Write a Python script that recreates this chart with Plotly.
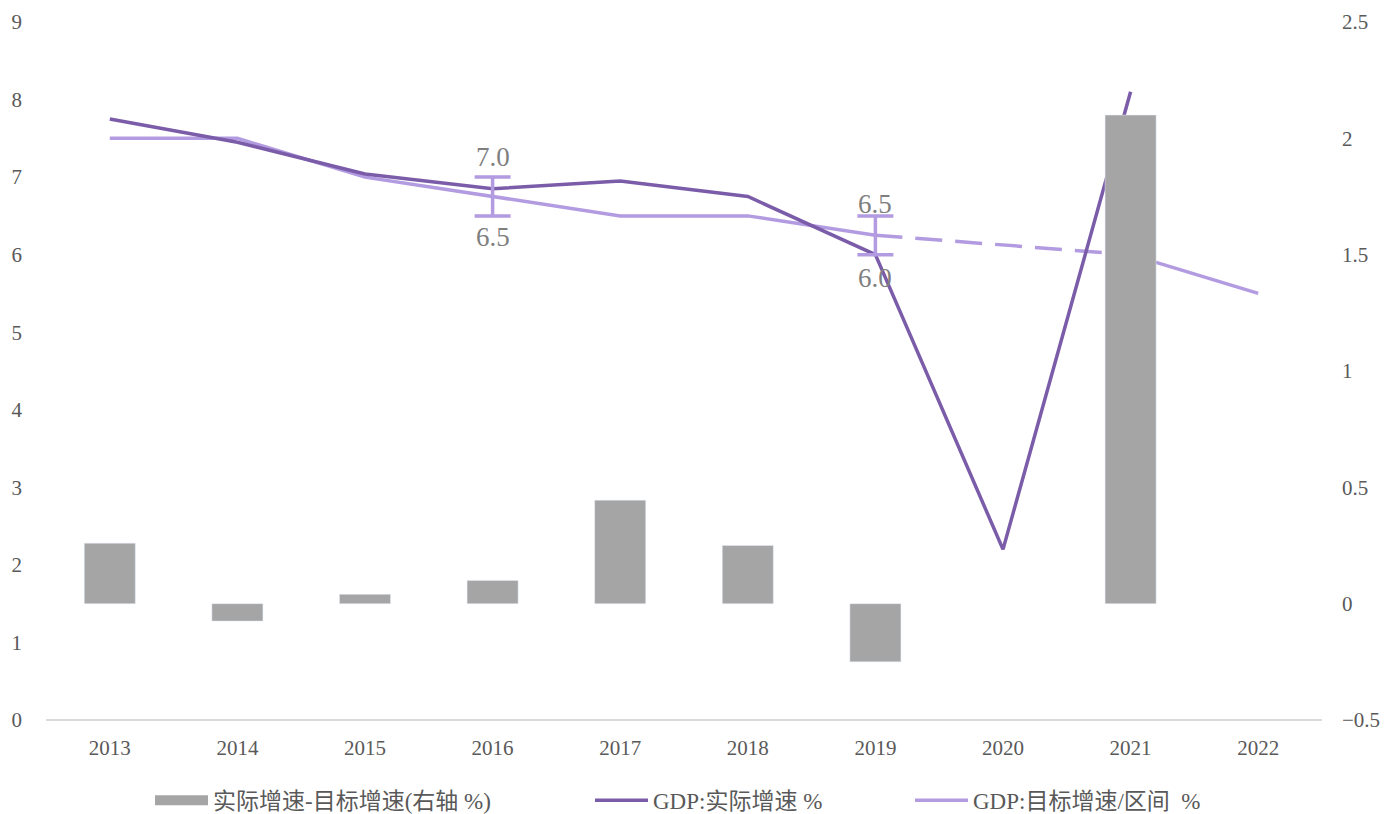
import plotly.graph_objects as go

years = [2013, 2014, 2015, 2016, 2017, 2018, 2019, 2020, 2021, 2022]
actual = [7.75, 7.45, 7.04, 6.85, 6.95, 6.75, 6.0, 2.2, 8.1, None]
target_solid_a_years = [2013, 2014, 2015, 2016, 2017, 2018, 2019]
target_solid_a = [7.5, 7.5, 7.0, 6.75, 6.5, 6.5, 6.25]
target_dash_years = [2019, 2021]
target_dash = [6.25, 6.0]
target_solid_b_years = [2021, 2022]
target_solid_b = [6.0, 5.5]
diff_years = [2013, 2014, 2015, 2016, 2017, 2018, 2019, 2020, 2021]
diff = [0.26, -0.075, 0.04, 0.1, 0.445, 0.25, -0.25, None, 2.1]
range_years = [2016, 2019]
range_low = [6.5, 6.0]
range_high = [7.0, 6.5]

DARK = "#7b5ca9"
LIGHT = "#b29be0"
GRAY = "#a5a5a5"
FONT = "Liberation Serif, Noto Sans CJK SC, serif"
TXT = "#595959"

fig = go.Figure()
fig.add_trace(go.Bar(x=diff_years, y=diff, yaxis="y2", marker_color=GRAY, width=0.4,
                     showlegend=False))
fig.add_trace(go.Scatter(x=target_solid_a_years, y=target_solid_a, mode="lines",
                         line=dict(color=LIGHT, width=3.5), showlegend=False))
fig.add_trace(go.Scatter(x=target_dash_years, y=target_dash, mode="lines",
                         line=dict(color=LIGHT, width=3.5, dash="27px,13px"), showlegend=False))
fig.add_trace(go.Scatter(x=target_solid_b_years, y=target_solid_b, mode="lines",
                         line=dict(color=LIGHT, width=3.5), showlegend=False))
fig.add_trace(go.Scatter(x=years, y=actual, mode="lines",
                         line=dict(color=DARK, width=3.5), showlegend=False))
# range markers
mids = [(h + l) / 2 for h, l in zip(range_high, range_low)]
halfs = [(h - l) / 2 for h, l in zip(range_high, range_low)]
fig.add_trace(go.Scatter(x=range_years, y=mids, mode="markers",
                         marker=dict(size=1, color=LIGHT, opacity=0),
                         error_y=dict(type="data", array=halfs, color=LIGHT, thickness=3.5, width=18),
                         showlegend=False))
shifts_hi = [3, -5]
shifts_lo = [-4, -6]
for x, h, l, sh, sl in zip(range_years, range_high, range_low, shifts_hi, shifts_lo):
    fig.add_annotation(x=x, y=h, text=f"{h:.1f}", showarrow=False, yanchor="bottom", yshift=sh,
                       font=dict(size=27, color="#7f7f7f", family=FONT))
    fig.add_annotation(x=x, y=l, text=f"{l:.1f}", showarrow=False, yanchor="top", yshift=sl,
                       font=dict(size=27, color="#7f7f7f", family=FONT))

# legend entries
fig.add_trace(go.Scatter(x=[None], y=[None], mode="lines", line=dict(color=GRAY, width=17),
                         name="实际增速-目标增速(右轴 %)", legend="legend"))
fig.add_trace(go.Scatter(x=[None], y=[None], mode="lines", line=dict(color=DARK, width=3.5),
                         name="GDP:实际增速 %", legend="legend2"))
fig.add_trace(go.Scatter(x=[None], y=[None], mode="lines", line=dict(color=LIGHT, width=3.5),
                         name="GDP:目标增速/区间  %", legend="legend3"))

L, R = 46, 64
W = 1386 - L - R
def px(x):
    return (x - L) / W

legend_common = dict(orientation="h", yanchor="middle", y=-0.115, xanchor="left",
                     font=dict(size=23, color=TXT, family=FONT), itemwidth=53,
                     bgcolor="rgba(0,0,0,0)")

fig.update_layout(
    width=1386, height=814,
    margin=dict(l=L, r=R, t=22, b=94, autoexpand=False),
    plot_bgcolor="white", paper_bgcolor="white",
    font=dict(family=FONT, size=21, color=TXT),
    xaxis=dict(range=[2012.5, 2022.5], tickvals=years, ticktext=[str(y) for y in years],
               showgrid=False, showline=False, zeroline=False, ticks="", automargin=False,
               ticklabelstandoff=13, tickfont=dict(size=21, color=TXT)),
    yaxis=dict(range=[0, 9], dtick=1, showgrid=False, zeroline=True, automargin=False,
               zerolinecolor="#d9d9d9", zerolinewidth=1.5, showline=False,
               ticklabelstandoff=23, tickfont=dict(size=21, color=TXT)),
    yaxis2=dict(range=[-0.5, 2.5], dtick=0.5, overlaying="y", side="right", automargin=False,
                showgrid=False, zeroline=False, showline=False, ticklabelstandoff=19,
                tickfont=dict(size=21, color=TXT)),
    legend=dict(x=px(150), **legend_common),
    legend2=dict(x=px(590), **legend_common),
    legend3=dict(x=px(910), **legend_common),
    showlegend=True,
)
fig.write_html("out.html", config={"displayModeBar": False},
               post_script="document.body.style.margin='0px';")
